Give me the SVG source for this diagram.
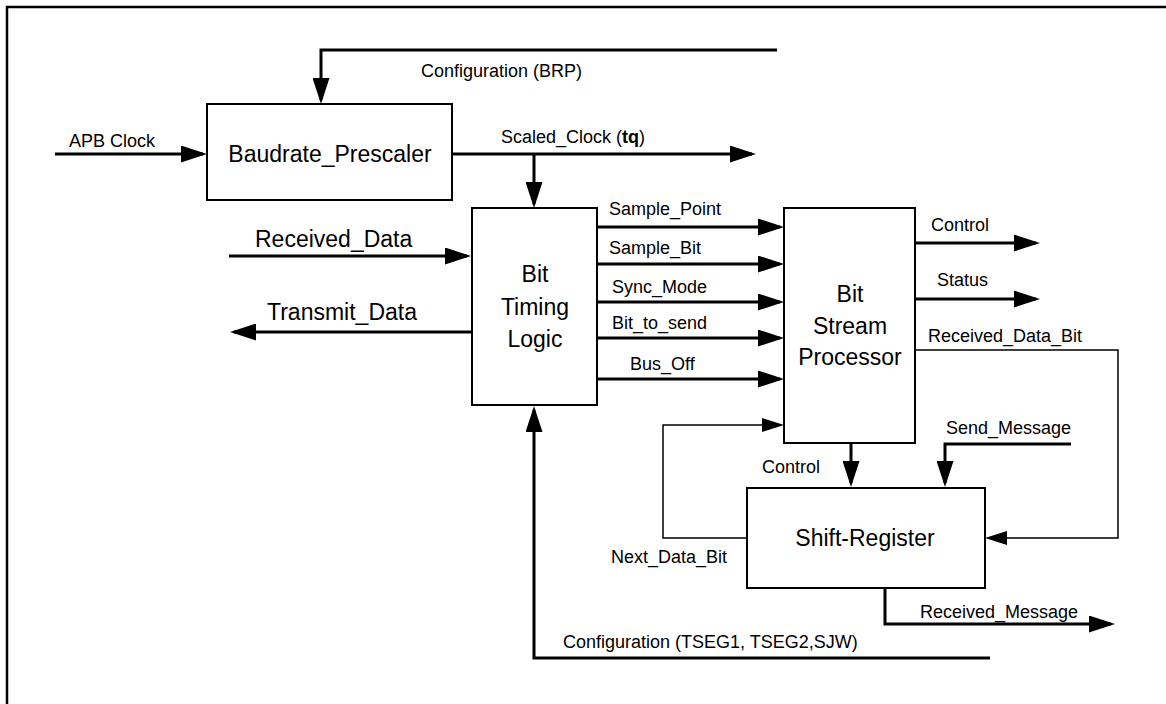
<svg xmlns="http://www.w3.org/2000/svg" width="1166" height="704" viewBox="0 0 1166 704">
<style>
.box{fill:#fff;stroke:#000;stroke-width:2}
.thick{fill:none;stroke:#000;stroke-width:3}
.thin{fill:none;stroke:#000;stroke-width:1.5}
.lbl{font-family:"Liberation Sans",Arial,sans-serif;font-size:18px;fill:#000}
.big{font-family:"Liberation Sans",Arial,sans-serif;font-size:23px;fill:#000}
.ctr{text-anchor:middle}
</style>
<defs>
<marker id="ah" markerUnits="userSpaceOnUse" markerWidth="26" markerHeight="17" refX="22" refY="8.5" orient="auto">
<path d="M0,0 L26,8.5 L0,17 z" fill="#000"/>
</marker>
<marker id="ahs" markerUnits="userSpaceOnUse" markerWidth="22" markerHeight="14" refX="19" refY="7" orient="auto">
<path d="M0,0 L22,7 L0,14 z" fill="#000"/>
</marker>
</defs>
<rect width="1166" height="704" fill="#fff"/>
<path d="M7,704 V7 H1166" fill="none" stroke="#000" stroke-width="2.5"/>

<g id="connectors">
<path class="thick" d="M777,50 H321 V100" marker-end="url(#ah)"/>
<path class="thick" d="M55,154 H203" marker-end="url(#ah)"/>
<path class="thick" d="M452,154 H752" marker-end="url(#ah)"/>
<path class="thick" d="M534,154 V204" marker-end="url(#ah)"/>
<path class="thick" d="M229,256 H467" marker-end="url(#ah)"/>
<path class="thick" d="M472,332 H234" marker-end="url(#ah)"/>
<path class="thick" d="M597,227 H780" marker-end="url(#ah)"/>
<path class="thick" d="M597,264 H780" marker-end="url(#ah)"/>
<path class="thick" d="M597,302 H780" marker-end="url(#ah)"/>
<path class="thick" d="M597,338 H780" marker-end="url(#ah)"/>
<path class="thick" d="M597,379 H780" marker-end="url(#ah)"/>
<path class="thick" d="M915,243 H1036" marker-end="url(#ah)"/>
<path class="thick" d="M915,299 H1036" marker-end="url(#ah)"/>
<path class="thin" d="M915,350 H1118 V538 H988" marker-end="url(#ahs)"/>
<path class="thin" d="M747,538 H663 V425 H781" marker-end="url(#ahs)"/>
<path class="thick" d="M851,443 V483" marker-end="url(#ah)"/>
<path class="thick" d="M1071,444 H945 V483" marker-end="url(#ah)"/>
<path class="thick" d="M885,588 V624 H1111" marker-end="url(#ah)"/>
<path class="thick" d="M990,658 H534 V410" marker-end="url(#ah)"/>
<text class="lbl" x="421" y="77">Configuration (BRP)</text>
<text class="lbl" x="69" y="147">APB Clock</text>
<text class="lbl" x="501" y="143">Scaled_Clock (<tspan font-weight="bold">tq</tspan>)</text>
<text class="big" x="255" y="247">Received_Data</text>
<text class="big" x="267" y="320">Transmit_Data</text>
<text class="lbl" x="609" y="215">Sample_Point</text>
<text class="lbl" x="609" y="254">Sample_Bit</text>
<text class="lbl" x="612" y="293">Sync_Mode</text>
<text class="lbl" x="612" y="329">Bit_to_send</text>
<text class="lbl" x="630" y="370">Bus_Off</text>
<text class="lbl" x="931" y="231">Control</text>
<text class="lbl" x="937" y="286">Status</text>
<text class="lbl" x="928" y="342">Received_Data_Bit</text>
<text class="lbl" x="946" y="434">Send_Message</text>
<text class="lbl" x="762" y="473">Control</text>
<text class="lbl" x="611" y="563">Next_Data_Bit</text>
<text class="lbl" x="920" y="618">Received_Message</text>
<text class="lbl" x="563" y="648">Configuration (TSEG1, TSEG2,SJW)</text>
</g>

<g id="baudrate_prescaler">
<rect class="box" x="207" y="104" width="245" height="96"/>
<text class="big ctr" x="330" y="162">Baudrate_Prescaler</text>
</g>
<g id="bit_timing_logic">
<rect class="box" x="472" y="208" width="125" height="197"/>
<text class="big ctr" x="535" y="282">Bit</text>
<text class="big ctr" x="535" y="315">Timing</text>
<text class="big ctr" x="535" y="347">Logic</text>
</g>
<g id="bit_stream_processor">
<rect class="box" x="784" y="208" width="131" height="235"/>
<text class="big ctr" x="850" y="302">Bit</text>
<text class="big ctr" x="850" y="334">Stream</text>
<text class="big ctr" x="850" y="365">Processor</text>
</g>
<g id="shift_register">
<rect class="box" x="747" y="488" width="238" height="100"/>
<text class="big ctr" x="865" y="546">Shift-Register</text>
</g>
</svg>
